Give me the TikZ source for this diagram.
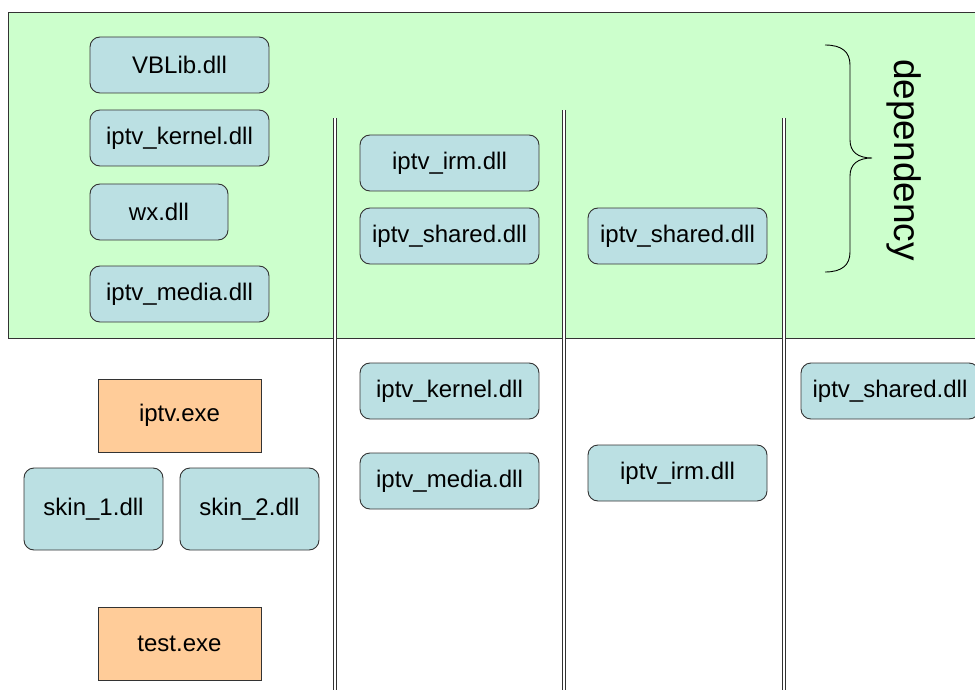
\documentclass[tikz,border=0pt]{standalone}
\usepackage{fontspec}
\setmainfont{Liberation Sans}
\definecolor{panelgreen}{HTML}{CCFFCC}
\definecolor{boxblue}{HTML}{BBE0E3}
\definecolor{exeorange}{HTML}{FFCC99}
\definecolor{edge}{HTML}{333333}
\tikzset{
  dllbox/.style={draw=edge, line width=0.9pt, fill=boxblue, rounded corners=10pt,
    minimum width=179pt, minimum height=56pt, inner sep=0pt,
    font=\fontsize{24}{28}\selectfont},
  exebox/.style={draw=edge, line width=0.9pt, fill=exeorange,
    minimum width=163pt, minimum height=73pt, inner sep=0pt,
    font=\fontsize{24}{28}\selectfont},
  divider/.style={draw=edge, line width=0.9pt, double=white, double distance=1.3pt}
}
\begin{document}
\begin{tikzpicture}[x=1pt,y=-1pt]
\useasboundingbox (0,0) rectangle (975,690);
\fill[panelgreen] (8,12) rectangle (980,338);
\draw[edge, line width=0.9pt] (980,12) -- (8,12) -- (8,338) -- (980,338);

% dividers
\coordinate (d1t) at (335,118); \coordinate (d1b) at (335,695);
\coordinate (d2t) at (564,110); \coordinate (d2b) at (564,695);
\coordinate (d3t) at (784,118); \coordinate (d3b) at (784,695);
\draw[divider] (d1t) -- (d1b);
\draw[divider] (d2t) -- (d2b);
\draw[divider] (d3t) -- (d3b);

% column 1
\node[dllbox] (vblib) at (179.5,65) {VBLib.dll};
\node[dllbox] (kernel1) at (179.5,138) {iptv\_kernel.dll};
\node[dllbox, minimum width=138pt] (wx) at (159,212) {wx.dll};
\node[dllbox] (media1) at (179.5,294) {iptv\_media.dll};
\node[exebox] (iptv) at (179.5,415.5) {iptv.exe};
\node[dllbox, minimum width=139pt, minimum height=82pt] (skin1) at (93.5,509) {skin\_1.dll};
\node[dllbox, minimum width=139pt, minimum height=82pt] (skin2) at (249.5,509) {skin\_2.dll};
\node[exebox] (test) at (179.5,643.5) {test.exe};

% column 2
\node[dllbox] (irm2) at (449.5,163) {iptv\_irm.dll};
\node[dllbox] (shared2) at (449.5,236) {iptv\_shared.dll};
\node[dllbox] (kernel2) at (449.5,391) {iptv\_kernel.dll};
\node[dllbox] (media2) at (449.5,481) {iptv\_media.dll};

% column 3
\node[dllbox] (shared3) at (677.5,236) {iptv\_shared.dll};
\node[dllbox] (irm3) at (677.5,473) {iptv\_irm.dll};

% column 4
\node[dllbox, minimum width=178pt] (shared4) at (890,391) {iptv\_shared.dll};

% brace
\coordinate (bt) at (825,45);
\coordinate (bm) at (872,158);
\coordinate (bb) at (825,272);
\draw[black, line width=0.9pt] (bt) .. controls (842,45) and (850,52) .. (850,65)
  -- (850,140) .. controls (850,152) and (858,158) .. (bm)
  .. controls (858,158) and (850,164) .. (850,176)
  -- (850,252) .. controls (850,265) and (842,272) .. (bb);
\node[rotate=-90, font=\fontsize{37}{40}\selectfont, inner sep=0pt] (dep) at (904,160) {dependency};
\end{tikzpicture}
\end{document}
